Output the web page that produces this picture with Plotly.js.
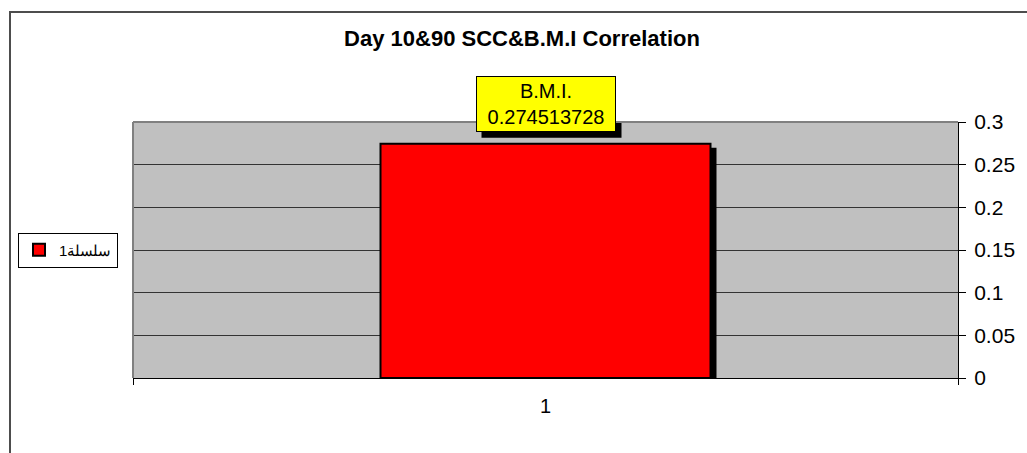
<!DOCTYPE html>
<html>
<head>
<meta charset="utf-8">
<script src="https://cdn.plot.ly/plotly-3.0.1.min.js"></script>
<style>
html,body{margin:0;padding:0;background:#fff;}
#chart{width:1027px;height:453px;}
</style>
</head>
<body>
<div id="chart"></div>
<script>
// ---- data ----
const categories = ["1"];
const seriesName = "سلسلة1";
const values = [0.274513728];
const labelName = "B.M.I.";
const titleText = "Day 10&90 SCC&B.M.I Correlation";
const yTicks = [0, 0.05, 0.1, 0.15, 0.2, 0.25, 0.3];

// ---- geometry helpers (layout only) ----
const W = 1027, H = 453;
const M = {l: 133, r: 69, t: 122, b: 75};
const PW = W - M.l - M.r, PH = H - M.t - M.b;
const yMax = 0.3;
const px2x = p => (p - M.l) / PW;
const px2y = p => (H - M.b - p) / PH;
const shadowDX = 6, shadowDY = 4;
const dxData = shadowDX / PW;          // category range is 1 wide
const dyData = shadowDY / PH * yMax;

const font = "Liberation Sans, Arial, sans-serif";

// a dummy trace on the visible axes (keeps them active)
const base = {
  type: 'bar', x: categories, y: values.map(() => null), xaxis: 'x', yaxis: 'y',
  showlegend: false, hoverinfo: 'skip'
};
const shadow = {
  type: 'bar', x: categories, y: values, xaxis: 'x2', yaxis: 'y2',
  width: 0.4, marker: {color: '#000', line: {width: 0}},
  showlegend: false, hoverinfo: 'skip'
};
const bars = {
  type: 'bar', x: categories, y: values, name: seriesName, xaxis: 'x3', yaxis: 'y3',
  width: 0.4, marker: {color: '#ff0000', line: {color: '#000', width: 2}}
};

const labelText = labelName + "<br>" + values[0];
const catIndex = categories.indexOf(categories[0]);
const labelShift = 12;        // px above bar top
const boxW = 140, boxH = 58;  // label box size in px

const layout = {
  width: W, height: H,
  margin: M,
  paper_bgcolor: '#ffffff',
  plot_bgcolor: '#c0c0c0',
  font: {family: font, color: '#000'},
  title: {text: '<b>' + titleText + '</b>', font: {size: 22, family: font, color: '#000'},
          x: 522 / W, xanchor: 'center', y: 1 - 38 / H, yanchor: 'middle'},
  xaxis: {type: 'category', range: [-0.5, 0.5], showgrid: false, showline: true, linecolor: '#000', linewidth: 1,
          ticks: 'outside', tickson: 'boundaries', ticklen: 6, tickcolor: '#000',
          tickfont: {size: 20, family: font}, ticklabelstandoff: 10, fixedrange: true},
  xaxis2: {type: 'category', overlaying: 'x', range: [-0.5 - dxData, 0.5 - dxData], visible: false},
  xaxis3: {type: 'category', overlaying: 'x', range: [-0.5, 0.5], visible: false},
  yaxis: {side: 'right', range: [0, yMax], tickvals: yTicks, ticktext: yTicks.map(String),
          showgrid: true, gridcolor: '#333333', gridwidth: 1, zeroline: false,
          showline: true, linecolor: '#000', linewidth: 1,
          ticks: 'outside', ticklen: 7, tickcolor: '#000',
          tickfont: {size: 21, family: font}, ticklabelstandoff: 4},
  yaxis2: {overlaying: 'y', range: [dyData, yMax + dyData], visible: false},
  yaxis3: {overlaying: 'y', range: [0, yMax], visible: false},
  legend: {x: px2x(18), xanchor: 'left', y: px2y(250), yanchor: 'middle',
           bgcolor: '#fff', bordercolor: '#000', borderwidth: 1,
           font: {size: 15, family: font}},
  showlegend: true,
  annotations: [
    {x: catIndex, y: values[0], xref: 'x', yref: 'y', text: labelText, showarrow: false,
     yanchor: 'bottom', yshift: labelShift, bgcolor: '#ffff00', bordercolor: '#000',
     borderwidth: 1, borderpad: 3, width: 132, font: {size: 20, color: '#000', family: font}}
  ],
  shapes: [
    // label shadow (pixel-sized box anchored at the bar top)
    {type: 'rect', xref: 'x', yref: 'y', xsizemode: 'pixel', ysizemode: 'pixel',
     xanchor: catIndex, yanchor: values[0],
     x0: -boxW / 2 + 6, x1: boxW / 2 + 6, y0: labelShift - 6, y1: labelShift + boxH - 6,
     fillcolor: '#000', line: {width: 0}, layer: 'above'},
    {type: 'line', xref: 'paper', yref: 'paper', x0: 0, x1: 1, y0: 1, y1: 1, line: {color: '#808080', width: 2}, layer: 'above'},
    {type: 'line', xref: 'paper', yref: 'paper', x0: 0, x1: 0, y0: 0, y1: 1, line: {color: '#808080', width: 2}, layer: 'above'},
    {type: 'rect', xref: 'paper', yref: 'paper', x0: px2x(10), x1: px2x(W + 20), y0: px2y(12), y1: px2y(H + 20),
     line: {color: '#4d4d4d', width: 2}, layer: 'above'}
  ]
};

Plotly.newPlot('chart', [base, shadow, bars], layout, {staticPlot: true, displayModeBar: false});
</script>
</body>
</html>
